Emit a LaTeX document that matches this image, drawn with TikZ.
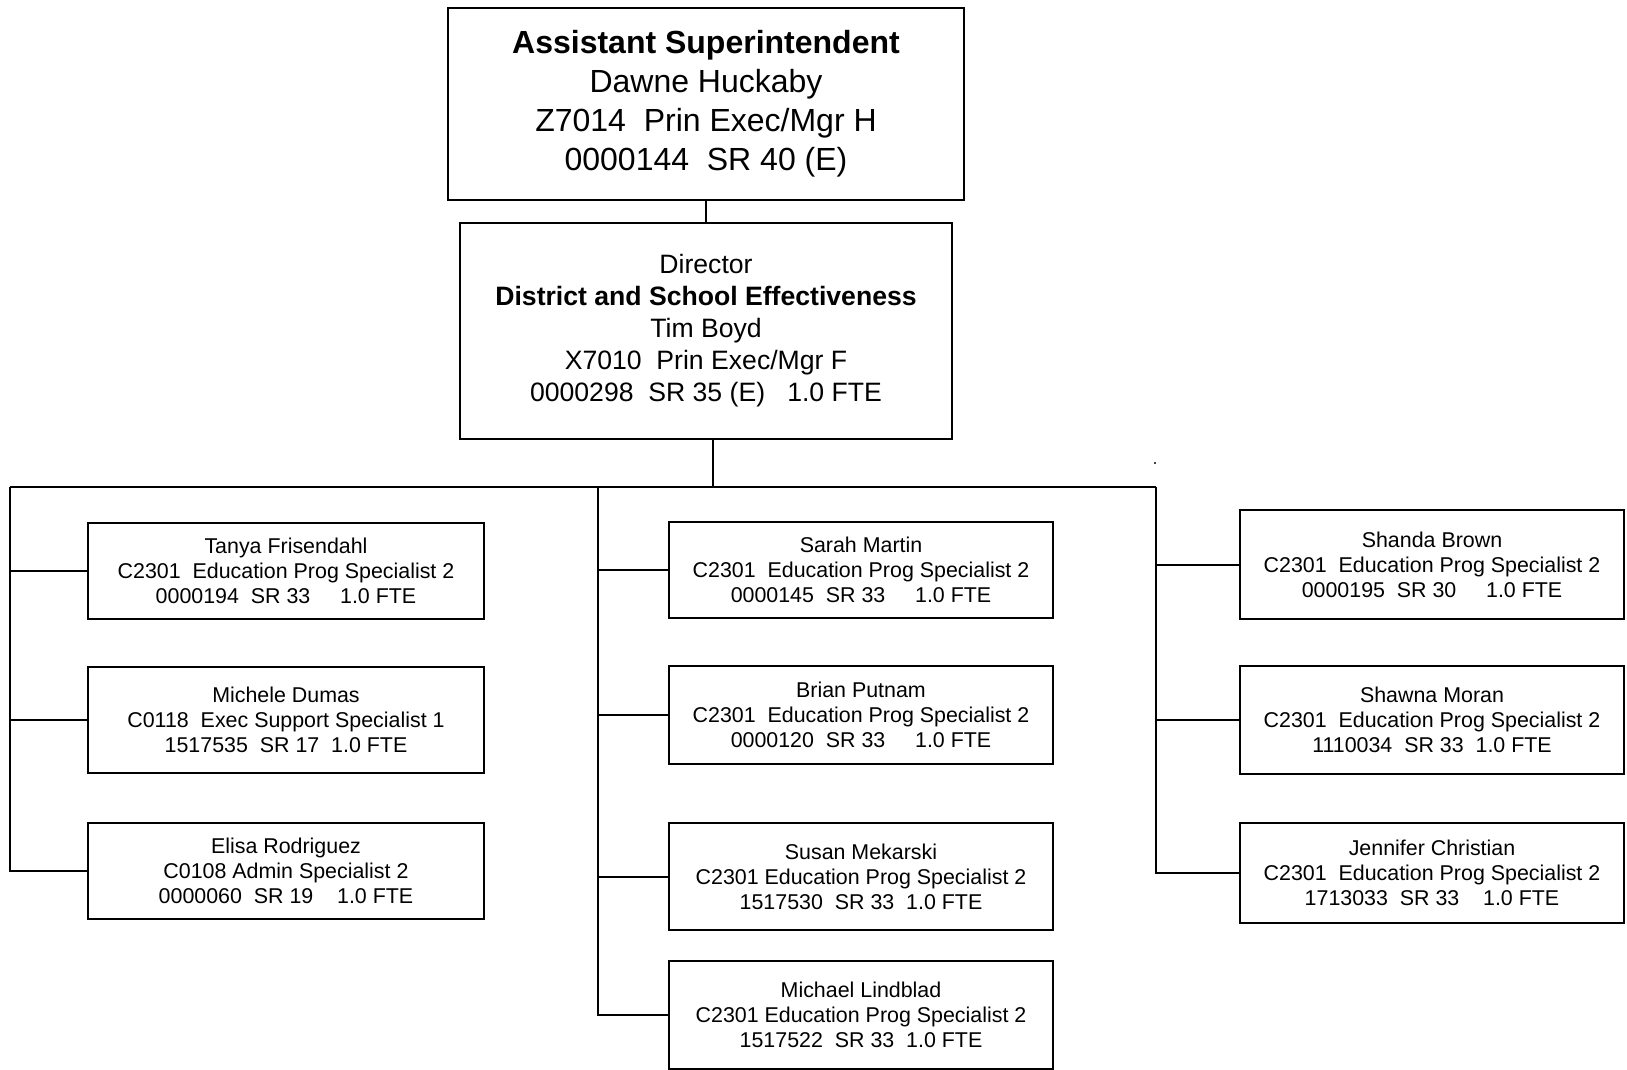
\documentclass[tikz,border=0pt]{standalone}
\usepackage{fontspec}
\setmainfont{Liberation Sans}
\begin{document}
\begin{tikzpicture}[x=0.5pt,y=-0.5pt,
  line width=1pt,
  pbox/.style={draw, line width=1pt, inner sep=0pt, align=center, anchor=center},
  topfont/.style={font=\fontsize{16.0}{19.5}\selectfont},
  dirfont/.style={font=\fontsize{13.3}{16.0}\selectfont},
  smallfont/.style={font=\fontsize{10.7}{12.5}\selectfont},
  lbox/.style={pbox, smallfont, minimum width=198pt},
  mbox/.style={pbox, smallfont, minimum width=192pt},
  rbox/.style={pbox, smallfont, minimum width=192pt},
  conn/.style={draw, line width=1pt}
]
\useasboundingbox (0,0) rectangle (1627,1070);

% top
\node[pbox, topfont, minimum width=258pt, minimum height=96pt] (top) at (706,104)
 {\textbf{Assistant Superintendent}\\Dawne Huckaby\\Z7014~~Prin Exec/Mgr H\\0000144~~SR 40 (E)};
\node[pbox, dirfont, minimum width=246pt, minimum height=108pt] (dir) at (706,331)
 {Director\\\textbf{District and School Effectiveness}\\Tim Boyd\\X7010~~Prin Exec/Mgr F\\0000298~~SR 35 (E)~~~1.0 FTE};

% left column
\node[lbox, minimum height=48pt] (tanya) at (286,571)
 {Tanya Frisendahl\\C2301~~Education Prog Specialist 2\\0000194~~SR 33~~~~~1.0 FTE};
\node[lbox, minimum height=53pt] (michele) at (286,720)
 {Michele Dumas\\C0118~~Exec Support Specialist 1\\1517535~~SR 17~~1.0 FTE};
\node[lbox, minimum height=48pt] (elisa) at (286,871)
 {Elisa Rodriguez\\C0108 Admin Specialist 2\\0000060~~SR 19~~~~1.0 FTE};

% middle column
\node[mbox, minimum height=48pt] (sarah) at (861,570)
 {Sarah Martin\\C2301~~Education Prog Specialist 2\\0000145~~SR 33~~~~~1.0 FTE};
\node[mbox, minimum height=49pt] (brian) at (861,715)
 {Brian Putnam\\C2301~~Education Prog Specialist 2\\0000120~~SR 33~~~~~1.0 FTE};
\node[mbox, minimum height=53.5pt] (susan) at (861,876.5)
 {Susan Mekarski\\C2301 Education Prog Specialist 2\\1517530~~SR 33~~1.0 FTE};
\node[mbox, minimum height=54pt] (michael) at (861,1015)
 {Michael Lindblad\\C2301 Education Prog Specialist 2\\1517522~~SR 33~~1.0 FTE};

% right column
\node[rbox, minimum height=54.5pt] (shanda) at (1432,564.5)
 {Shanda Brown\\C2301~~Education Prog Specialist 2\\0000195~~SR 30~~~~~1.0 FTE};
\node[rbox, minimum height=54pt] (shawna) at (1432,720)
 {Shawna Moran\\C2301~~Education Prog Specialist 2\\1110034~~SR 33~~1.0 FTE};
\node[rbox, minimum height=50pt] (jennifer) at (1432,873)
 {Jennifer Christian\\C2301~~Education Prog Specialist 2\\1713033~~SR 33~~~~1.0 FTE};

% bus coordinates
\coordinate (busL) at (10,487);
\coordinate (busM) at (598,487);
\coordinate (busR) at (1156,487);
\coordinate (busC) at (713,487);

% connectors
\draw[conn] (top.south) -- (dir.north);
\draw[conn] (dir.south -| busC) -- (busC);
\draw[conn] (busL) -- (busR);

\draw[conn] (busL) |- (elisa.west);
\draw[conn] (busL |- tanya.west) -- (tanya.west);
\draw[conn] (busL |- michele.west) -- (michele.west);

\draw[conn] (busM) |- (michael.west);
\draw[conn] (busM |- sarah.west) -- (sarah.west);
\draw[conn] (busM |- brian.west) -- (brian.west);
\draw[conn] (busM |- susan.west) -- (susan.west);

\draw[conn] (busR) |- (jennifer.west);
\draw[conn] (busR |- shanda.west) -- (shanda.west);
\draw[conn] (busR |- shawna.west) -- (shawna.west);

% stray dot
\fill (1155,463) circle (0.6pt);
\end{tikzpicture}
\end{document}
